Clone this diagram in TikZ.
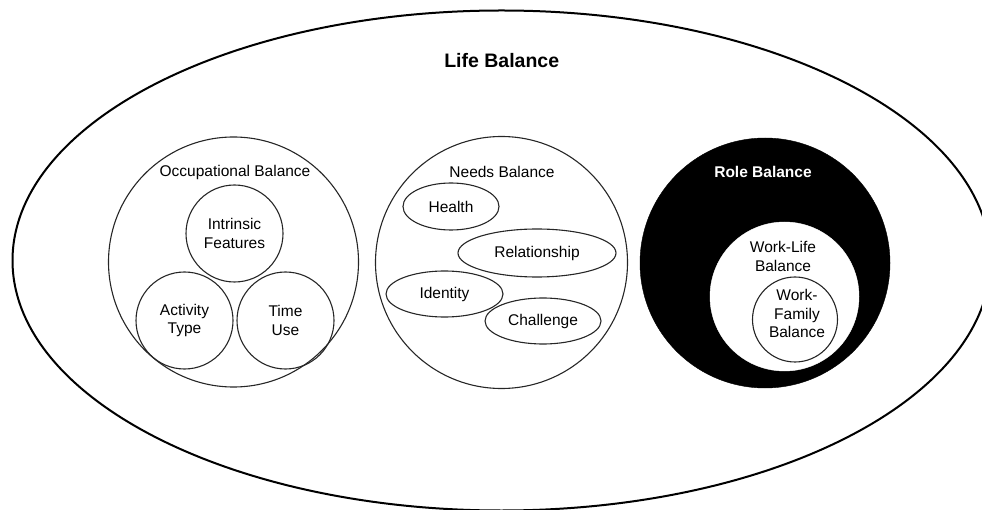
\documentclass[tikz,border=0pt]{standalone}
\usepackage{fontspec}
\setmainfont{Liberation Sans}
\usetikzlibrary{shapes.geometric}
\tikzset{
  ring/.style={circle,draw=black!85,line width=1.1pt,inner sep=0pt},
  oval/.style={ellipse,draw=black!85,line width=1.1pt,inner sep=0pt},
  txt/.style={align=center,font=\fontsize{15.5}{18.5}\selectfont,inner sep=0pt},
  btxt/.style={txt,font=\fontsize{15.5}{18.5}\selectfont\bfseries}
}
\begin{document}
\begin{tikzpicture}[x=1pt,y=-1pt]
\useasboundingbox (0,0) rectangle (982,510);
% outer ellipse
\node[oval,line width=2pt,draw=black,minimum width=978pt,minimum height=500pt] (life) at (501.5,260.5) {};
\node[btxt,font=\fontsize{19.5}{22}\selectfont\bfseries] (lifet) at (501.7,61) {Life Balance};
% occupational balance
\node[ring,minimum size=250pt] (occ) at (233.5,262) {};
\node[txt] (occt) at (235,172) {Occupational Balance};
\node[ring,minimum size=97pt] (intr) at (234.5,233.5) {};
\node[txt] at (intr) {Intrinsic\\Features};
\node[ring,minimum size=97pt] (act) at (184.5,320.5) {};
\node[txt] at (act) {Activity\\Type};
\node[ring,minimum size=97pt] (time) at (285.5,320.5) {};
\node[txt] at (time) {Time\\Use};
% needs balance
\node[ring,minimum size=252pt] (needs) at (501.5,262.5) {};
\node[txt] (needst) at (502,172) {Needs Balance};
\node[oval,minimum width=96pt,minimum height=47pt] (health) at (451,206.5) {};
\node[txt] at (health) {Health};
\node[oval,minimum width=158pt,minimum height=48pt] (rel) at (537,253) {};
\node[txt] at (rel) {Relationship};
\node[oval,minimum width=117pt,minimum height=46pt] (ident) at (444.5,294) {};
\node[txt] at (ident) {Identity};
\node[oval,minimum width=116pt,minimum height=46pt] (chal) at (543,321) {};
\node[txt] at (chal) {Challenge};
% role balance
\node[circle,fill=black,draw=black,minimum size=250pt,inner sep=0pt] (role) at (765,263) {};
\node[btxt,text=white] (rolet) at (763,172) {Role Balance};
\node[circle,fill=white,draw=white,minimum size=149pt,inner sep=0pt] (wl) at (784.5,296.5) {};
\node[txt] (wlt) at (783,256.5) {Work-Life\\Balance};
\node[ring,minimum size=85pt] (wf) at (795,319.5) {};
\node[txt] at (797,313.5) {Work-\\Family\\Balance};
\end{tikzpicture}
\end{document}
